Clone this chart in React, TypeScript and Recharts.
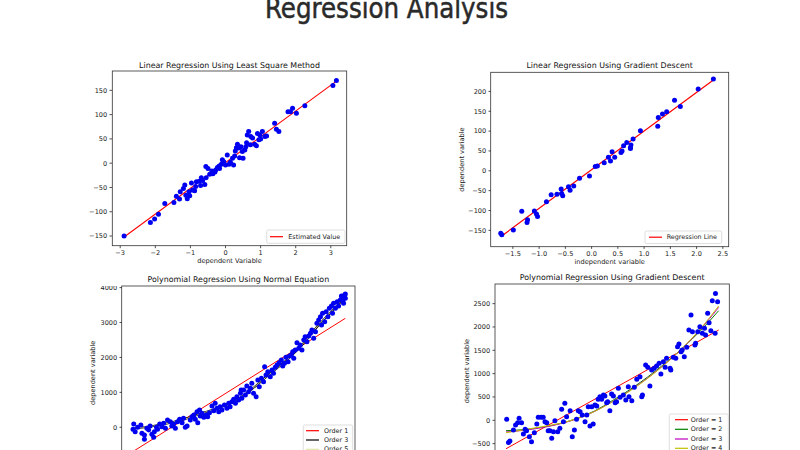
import React from 'react';
import { ComposedChart, Scatter, Line, XAxis, YAxis } from 'recharts';

const FONT = '"DejaVu Sans", Verdana, sans-serif';

// ---------- Data ----------
const lsqPoints: number[][] = [
  [-2.89, -150], [-2.14, -122], [-2.02, -115], [-1.91, -105], [-1.73, -83], [-1.47, -81], [-1.40, -68],
  [-1.31, -74], [-1.29, -59], [-1.2, -52], [-1.16, -45], [-1.13, -66], [-1.09, -73], [-1.04, -59], [-1.02, -67],
  [-0.97, -41], [-0.94, -55], [-0.88, -57], [-0.85, -48], [-0.83, -38], [-0.75, -37], [-0.71, -46], [-0.69, -30],
  [-0.65, -36], [-0.59, -44], [-0.56, -7], [-0.55, -30], [-0.50, -11], [-0.45, -23], [-0.39, -16], [-0.36, -22],
  [-0.3, -18], [-0.28, -14], [-0.23, -9], [-0.18, -6], [-0.17, -11], [-0.12, -2], [-0.09, 7], [-0.05, 3],
  [0.0, -4], [0.05, 17], [0.10, -2], [0.14, 2], [0.20, 10], [0.23, -4], [0.26, 15], [0.28, 25], [0.31, 32],
  [0.34, 39], [0.38, 31], [0.40, 11], [0.44, 34], [0.48, 24], [0.50, 10], [0.55, 27], [0.58, 34], [0.6, 42],
  [0.62, 58], [0.66, 65], [0.71, 38], [0.72, 55], [0.77, 52], [0.83, 39], [0.88, 36], [0.91, 61], [0.95, 48],
  [0.98, 58], [1.0, 50], [1.05, 65], [1.12, 55], [1.17, 56], [1.40, 82], [1.45, 70], [1.52, 65], [1.78, 106],
  [1.85, 106], [1.91, 113], [2.02, 103], [2.26, 118], [3.06, 160], [3.16, 170],
];
const lsqLine: number[][] = [[-2.89, -152], [3.16, 169]];

const gdPoints: number[][] = [
  [-1.73, -157], [-1.71, -161], [-1.49, -149], [-1.33, -102], [-1.23, -130], [-1.22, -123], [-1.09, -101],
  [-1.05, -109], [-1.03, -115], [-0.86, -78], [-0.77, -60], [-0.66, -59], [-0.58, -46], [-0.57, -57],
  [-0.55, -63], [-0.44, -40], [-0.41, -49], [-0.34, -38], [-0.23, -19], [-0.04, -13], [0.07, 11], [0.11, 12],
  [0.24, 20], [0.32, 34], [0.36, 25], [0.39, 48], [0.44, 34], [0.56, 46], [0.58, 50], [0.61, 63], [0.67, 71],
  [0.74, 59], [0.75, 65], [0.74, 56], [0.79, 80], [0.93, 101], [1.26, 112], [1.27, 134], [1.35, 143],
  [1.43, 149], [1.58, 178], [1.69, 162], [2.03, 206], [2.32, 231],
];
const gdLine: number[][] = [[-1.72, -165], [2.32, 229]];

const neqPoints: number[][] = [
  [-2.95, 95], [-2.97, -58], [-2.91, -125], [-2.84, -1], [-2.75, 66], [-2.72, -173], [-2.65, -221], [-2.65, -345],
  [-2.58, -30], [-2.53, -77], [-2.49, 37], [-2.44, -201], [-2.39, -287], [-2.37, -125], [-2.31, -1], [-2.28, -58],
  [-2.22, 95], [-2.16, 18], [-2.11, 114], [-2.06, -30], [-2.0, 209], [-1.92, 161], [-1.88, 37], [-1.83, 95],
  [-1.78, -30], [-1.72, 161], [-1.66, 228], [-1.59, 133], [-1.55, 257], [-1.50, -1], [-1.45, 37], [-1.36, 209],
  [-1.31, 305], [-1.26, 352], [-1.22, 228], [-1.17, 448], [-1.15, 133], [-1.10, 495], [-1.08, 324], [-1.03, 400],
  [-0.98, 285], [-0.91, 352], [-0.87, 305], [-0.82, 419], [-0.75, 610], [-0.70, 476], [-0.66, 686], [-0.61, 543],
  [-0.56, 448], [-0.52, 591], [-0.47, 495], [-0.40, 639], [-0.33, 543], [-0.28, 686], [-0.24, 591], [-0.19, 734],
  [-0.14, 801], [-0.09, 686], [-0.05, 877], [0.0, 782], [0.05, 973], [0.09, 830], [0.14, 1068],
  [0.07, 1068], [0.19, 925], [0.23, 1183], [0.28, 1020], [0.33, 1116], [0.37, 1259], [0.42, 973], [0.49, 877],
  [0.54, 1355], [0.58, 1164], [0.64, 1402], [0.70, 1307], [0.73, 1737], [0.77, 1498], [0.82, 1593], [0.89, 1450],
  [0.94, 1641], [0.98, 1545], [1.03, 1717], [1.08, 1784], [1.14, 1851], [1.20, 1927], [1.24, 1755], [1.29, 1832],
  [1.33, 2004], [1.39, 1880], [1.43, 2042], [1.48, 2071], [1.52, 2166], [1.55, 1975], [1.59, 2214], [1.64, 2424],
  [1.69, 2262], [1.73, 2357], [1.78, 2214], [1.83, 2500], [1.87, 2596], [1.92, 2452], [1.97, 2615], [2.02, 2691],
  [2.06, 2787], [2.11, 2548], [2.16, 2739], [2.20, 2978], [2.25, 3073], [2.30, 3169], [2.33, 2930], [2.36, 3264],
  [2.42, 3025], [2.46, 3311], [2.51, 3169], [2.55, 3407], [2.61, 3474], [2.64, 3264], [2.67, 3550], [2.72, 3407],
  [2.77, 3598], [2.81, 3474], [2.86, 3646], [2.89, 3760], [2.93, 3627], [2.98, 3789], [2.95, 3550], [3.0, 3694],
  [3.0, 3820],
];
const neqOrder1: number[][] = [[-3, -712], [3, 3121]];
const neqOrder3: number[][] = [
  [-3, -30], [-2.4, 37], [-1.92, 132], [-1.45, 258], [-0.99, 418], [-0.52, 570], [-0.05, 782], [0.37, 1090],
  [0.84, 1498], [1.31, 1890], [1.78, 2357], [2.25, 2930], [2.72, 3430], [3.0, 3730],
];
const neqOrder5: number[][] = [
  [-3, -20], [-2.4, 35], [-1.92, 130], [-1.45, 255], [-0.99, 415], [-0.52, 572], [-0.05, 785], [0.37, 1092],
  [0.84, 1495], [1.31, 1888], [1.78, 2360], [2.25, 2935], [2.72, 3440], [3.0, 3745],
];

const pgdPoints: number[][] = [
  [-2.98, 21], [-2.93, -478], [-2.89, -444], [-2.79, -208], [-2.73, -101], [-2.67, -51], [-2.63, 42], [-2.56, -51],
  [-2.51, -294], [-2.46, -194], [-2.42, -222], [-2.34, -351], [-2.28, -458], [-2.20, -265], [-2.13, -79],
  [-2.09, 64], [-2.01, 64], [-1.95, 64], [-1.90, -29], [-1.85, -51], [-1.81, -222], [-1.76, -222], [-1.71, -386],
  [-1.66, -244], [-1.62, -8], [-1.54, -244], [-1.48, -172], [-1.43, 235], [-1.38, -29], [-1.34, 364], [-1.29, 78],
  [-1.19, 206], [-1.13, -351], [-1.07, -208], [-1.01, 21], [-0.96, 206], [-0.91, 185], [-0.85, 114], [-0.77, -29],
  [-0.72, 114], [-0.68, 292], [-0.63, -122], [-0.58, 292], [-0.54, -79], [-0.49, 328], [-0.44, 306], [-0.40, 449],
  [-0.35, 506], [-0.30, 449], [-0.25, 542], [-0.21, 521], [-0.16, 378], [-0.13, 399], [-0.07, 206], [-0.02, 564],
  [0.03, 521], [0.08, 378], [0.12, 399], [0.17, 685], [0.22, 492], [0.31, 542], [0.38, 435], [0.45, 721],
  [0.47, 506], [0.55, 421], [0.62, 706], [0.69, 878], [0.78, 935], [0.83, 506], [0.85, 542], [0.94, 1185],
  [1.0, 1135], [1.06, 735], [1.11, 1078], [1.18, 1114], [1.25, 1164], [1.32, 1221], [1.37, 992], [1.44, 1256],
  [1.49, 1135], [1.53, 1328], [1.63, 1114], [1.65, 1078], [1.72, 1349], [1.79, 1328], [1.84, 1578], [1.88, 1635],
  [1.94, 1471], [1.97, 1506], [2.03, 1364], [2.10, 1564], [2.16, 1935], [2.22, 2256], [2.26, 1899], [2.33, 1614],
  [2.35, 1649], [2.41, 1899], [2.47, 2006], [2.54, 1864], [2.60, 1971], [2.63, 1828], [2.69, 2292], [2.73, 2092],
  [2.78, 1921], [2.82, 2563], [2.90, 1864], [2.97, 2542], [2.91, 2720],
];
const pgdOrder1: number[][] = [[-3, -610], [3, 1935]];
const pgdOrder2: number[][] = [
  [-3, -222], [-2.5, -200], [-2, -150], [-1.5, -75], [-1, 40], [-0.5, 200], [0, 420], [0.5, 660], [1, 930],
  [1.5, 1230], [2, 1560], [2.5, 1930], [3, 2349],
];
const pgdOrder3: number[][] = [
  [-3, -250], [-2.5, -215], [-2, -160], [-1.5, -80], [-1, 30], [-0.5, 190], [0, 400], [0.5, 640], [1, 910],
  [1.5, 1215], [2, 1560], [2.5, 1960], [3, 2420],
];
const pgdOrder4: number[][] = [
  [-3, -265], [-2.5, -205], [-2, -140], [-1.5, -70], [-1, 35], [-0.5, 190], [0, 395], [0.5, 630], [1, 900],
  [1.5, 1210], [2, 1565], [2.5, 1975], [3, 2450],
];

const tlXTicks = [-3, -2, -1, 0, 1, 2, 3];
const tlYTicks = [-150, -100, -50, 0, 50, 100, 150];
const trXTicks = [-1.5, -1.0, -0.5, 0.0, 0.5, 1.0, 1.5, 2.0, 2.5];
const trYTicks = [-150, -100, -50, 0, 50, 100, 150, 200];
const blYTicks = [0, 1000, 2000, 3000, 4000];
const brYTicks = [-500, 0, 500, 1000, 1500, 2000, 2500];

// ---------- Helpers ----------
const toObj = (arr: number[][]) => arr.map(([x, y]) => ({ x, y }));
const minus = (s: string) => s.replace('-', '\u2212');
const fmtInt = (v: number) => minus(String(v));
const fmt1 = (v: number) => minus(v.toFixed(1));

const Dot = (props: any) => <circle cx={props.cx} cy={props.cy} r={2.5} fill="#0000f0" />;

type LineSpec = { name: string; data: number[][]; color: string; w: number };
type PanelSpec = {
  box: { l: number; t: number; w: number; h: number };
  xDomain: [number, number];
  yDomain: [number, number];
  xTicks?: number[];
  yTicks: number[];
  xFmt?: (v: number) => string;
  showX: boolean;
  points: number[][];
  lines: LineSpec[];
};

const TICK_FS = 6.6;
const tickStyle = { fontSize: TICK_FS, fill: '#222', fontFamily: FONT };

const Panel = ({ p }: { p: PanelSpec }) => {
  const YW = 45;
  const RM = 15;
  const XH = p.showX ? 22 : 0;
  return (
    <div style={{ position: 'absolute', left: p.box.l - YW, top: p.box.t }}>
      <ComposedChart
        width={YW + p.box.w + RM}
        height={p.box.h + XH}
        margin={{ top: 0, right: RM, bottom: 0, left: 0 }}
      >
        <XAxis
          type="number"
          dataKey="x"
          domain={p.xDomain}
          allowDataOverflow
          ticks={p.xTicks}
          interval={0}
          tickFormatter={p.xFmt}
          hide={!p.showX}
          height={XH}
          axisLine={false}
          tickSize={2.5}
          tickMargin={2.3}
          tickLine={{ stroke: '#222', strokeWidth: 0.8 }}
          tick={tickStyle}
        />
        <YAxis
          type="number"
          dataKey="y"
          domain={p.yDomain}
          allowDataOverflow
          ticks={p.yTicks}
          interval={0}
          tickFormatter={fmtInt}
          width={YW}
          axisLine={false}
          tickSize={2.5}
          tickMargin={2.3}
          tickLine={{ stroke: '#222', strokeWidth: 0.8 }}
          tick={tickStyle}
        />
        <Scatter data={toObj(p.points)} dataKey="y" shape={Dot} isAnimationActive={false} />
        {p.lines.map((l) => (
          <Line
            key={l.name}
            data={toObj(l.data)}
            dataKey="y"
            type="monotone"
            stroke={l.color}
            strokeWidth={l.w}
            dot={false}
            activeDot={false}
            isAnimationActive={false}
          />
        ))}
      </ComposedChart>
    </div>
  );
};

const panels: PanelSpec[] = [
  {
    box: { l: 112.3, t: 71, w: 234.4, h: 174.7 },
    xDomain: [-3.234, 3.444],
    yDomain: [-169.9, 189.8],
    xTicks: tlXTicks,
    yTicks: tlYTicks,
    xFmt: fmtInt,
    showX: true,
    points: lsqPoints,
    lines: [{ name: 'Estimated Value', data: lsqLine, color: '#ff0000', w: 1.1 }],
  },
  {
    box: { l: 490.7, t: 72.3, w: 238, h: 174.4 },
    xDomain: [-1.916, 2.617],
    yDomain: [-190.4, 248.9],
    xTicks: trXTicks,
    yTicks: trYTicks,
    xFmt: fmt1,
    showX: true,
    points: gdPoints,
    lines: [{ name: 'Regression Line', data: gdLine, color: '#ff0000', w: 1.2 }],
  },
  {
    box: { l: 121.7, t: 286, w: 233.3, h: 173.6 },
    xDomain: [-3.28, 3.28],
    yDomain: [-925, 4046],
    yTicks: blYTicks,
    showX: false,
    points: neqPoints,
    lines: [
      { name: 'Order 1', data: neqOrder1, color: '#ff0000', w: 1 },
      { name: 'Order 3', data: neqOrder3, color: '#000000', w: 2 },
      { name: 'Order 5', data: neqOrder5, color: '#e4e4a8', w: 0.9 },
    ],
  },
  {
    box: { l: 495, t: 284, w: 234.3, h: 174 },
    xDomain: [-3.31, 3.3],
    yDomain: [-808, 2921],
    yTicks: brYTicks,
    showX: false,
    points: pgdPoints,
    lines: [
      { name: 'Order = 1', data: pgdOrder1, color: '#ff0000', w: 1 },
      { name: 'Order = 2', data: pgdOrder2, color: '#008000', w: 1 },
      { name: 'Order = 3', data: pgdOrder3, color: '#bf00bf', w: 1 },
      { name: 'Order = 4', data: pgdOrder4, color: '#bfbf00', w: 1 },
    ],
  },
];

const titles = [
  'Linear Regression Using Least Square Method',
  'Linear Regression Using Gradient Descent',
  'Polynomial Regression Using Normal Equation',
  'Polynomial Regression Using Gradient Descent',
];
const titleY = [65, 65, 279.3, 277.3];

const legendGeo = [
  { x: 266.7, y: 230, w: 78.3, h: 13.3, rows: [236.7], lx: 270, tx: 288.3 },
  { x: 645, y: 231, w: 76.7, h: 12.6, rows: [237.2], lx: 649, tx: 666.7 },
  { x: 303.3, y: 425, w: 49.4, h: 32, rows: [430.7, 440, 449.3], lx: 306, tx: 324 },
  { x: 669.3, y: 414, w: 59, h: 42, rows: [419.7, 429.3, 439, 448.3], lx: 675, tx: 690.7 },
];

const Overlay = () => (
  <svg
    width={800}
    height={450}
    style={{ position: 'absolute', left: 0, top: 0, pointerEvents: 'none' }}
    fontFamily={FONT}
  >
    <text
      x={265}
      y={18}
      fontSize={29}
      fill="#2a2a2a"
      stroke="#2a2a2a"
      strokeWidth={0.5}
      textLength={243}
      lengthAdjust="spacingAndGlyphs"
      fontFamily='"DejaVu Sans Condensed", "Liberation Sans Narrow", "DejaVu Sans", sans-serif'
    >
      Regression Analysis
    </text>
    {panels.map((p, i) => (
      <g key={i}>
        <rect x={p.box.l} y={p.box.t} width={p.box.w} height={p.box.h} fill="none" stroke="#333" strokeWidth={0.8} />
        <text
          x={p.box.l + p.box.w / 2}
          y={titleY[i]}
          fontSize={7.9}
          textAnchor="middle"
          dominantBaseline="central"
          fill="#111"
        >
          {titles[i]}
        </text>
      </g>
    ))}
    <text x={229.5} y={261} fontSize={TICK_FS} textAnchor="middle" dominantBaseline="central" fill="#222">
      dependent Variable
    </text>
    <text x={609.7} y={262} fontSize={TICK_FS} textAnchor="middle" dominantBaseline="central" fill="#222">
      independent variable
    </text>
    {[
      [461.7, 159.5],
      [93.3, 372.8],
      [466.7, 371],
    ].map(([x, y], i) => (
      <text
        key={i}
        transform={`translate(${x},${y}) rotate(-90)`}
        fontSize={TICK_FS}
        textAnchor="middle"
        dominantBaseline="central"
        fill="#222"
      >
        dependent variable
      </text>
    ))}
    {panels.map((p, i) => {
      const g = legendGeo[i];
      return (
        <g key={'lg' + i}>
          <rect x={g.x} y={g.y} width={g.w} height={g.h} rx={1.5} fill="#fff" fillOpacity={0.85} stroke="#d0d0d0" strokeWidth={0.7} />
          {p.lines.map((l, j) => (
            <g key={j}>
              <line x1={g.lx} x2={g.lx + 13} y1={g.rows[j]} y2={g.rows[j]} stroke={l.color} strokeWidth={1.2} />
              <text x={g.tx} y={g.rows[j]} fontSize={6.4} dominantBaseline="central" fill="#222">
                {l.name}
              </text>
            </g>
          ))}
        </g>
      );
    })}
  </svg>
);

export default function App() {
  return (
    <div
      style={{
        position: 'fixed',
        left: 0,
        top: 0,
        width: 800,
        height: 450,
        overflow: 'hidden',
        background: '#fff',
        fontFamily: FONT,
      }}
    >
      {panels.map((p, i) => (
        <Panel key={i} p={p} />
      ))}
      <Overlay />
    </div>
  );
}
